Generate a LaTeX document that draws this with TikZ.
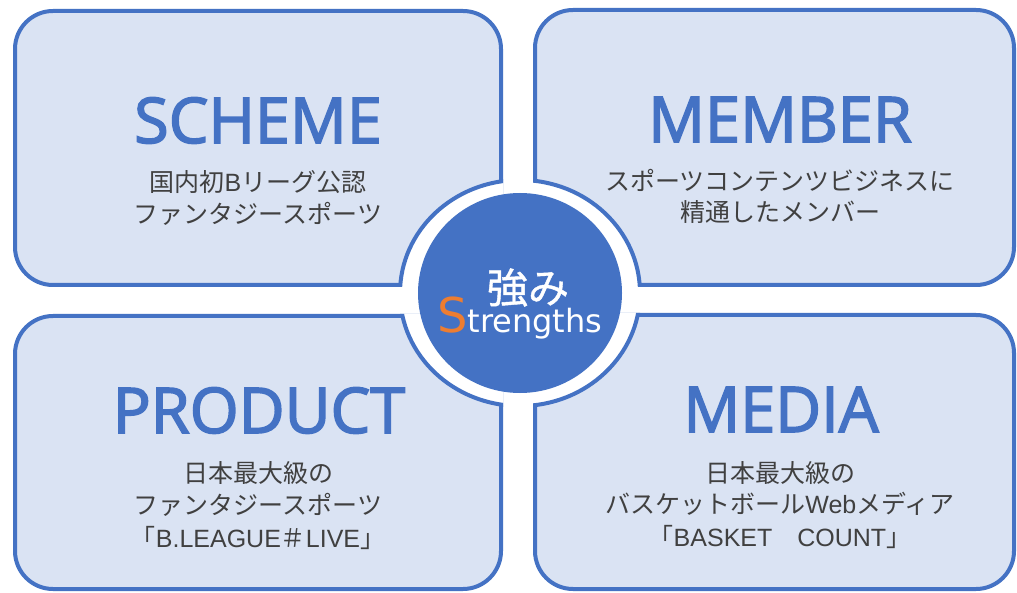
\documentclass[tikz,border=0pt]{standalone}
\usepackage{fontspec}
\setmainfont{Noto Sans CJK JP}
\newfontfamily\headfont{Open Sans}[FakeBold=2.5]
\newfontfamily\latb{Liberation Sans}
\newfontfamily\strfont{DejaVu Sans}
\newfontfamily\cjkmed{Noto Sans CJK JP}[FakeBold=1]
\usetikzlibrary{shapes.geometric}
\definecolor{accent}{HTML}{4472C4}
\definecolor{lightfill}{HTML}{DAE3F3}
\definecolor{bodygray}{HTML}{404040}
\definecolor{orangeS}{HTML}{ED7D31}
\begin{document}
\begin{tikzpicture}[x=1pt,y=-1pt,
  box/.style={draw=accent, line width=4pt, fill=lightfill, rounded corners=38pt},
  head/.style={font=\headfont\fontsize{63}{63}\selectfont, text=accent, inner sep=0pt, anchor=base},
  bodytxt/.style={font=\fontsize{25}{25}\selectfont, text=bodygray, inner sep=0pt, anchor=base},
  core/.style={ellipse, fill=accent, draw=none, minimum width=204pt, minimum height=200pt, inner sep=0pt}]
\useasboundingbox (0,0) rectangle (1017,593);
\fill[white] (0,0) rectangle (1017,593);
% four boxes
\path[box] (15,11) rectangle (501,285);
\path[box] (535,10) rectangle (1014,285);
\path[box] (15,316) rectangle (501,589);
\path[box] (535,315) rectangle (1014,589);
% cut-out ring around the centre
\begin{scope}
  \clip (13,9) rectangle (503,287) (533,8) rectangle (1016,287)
        (13,314) rectangle (503,591) (533,313) rectangle (1016,591);
  \path[draw=accent, line width=4pt, fill=white] (520,293) ellipse [x radius=120, y radius=113];
\end{scope}
\node[core] (centre) at (520,293) {};
% centre texts
\node[font=\cjkmed\fontsize{41}{41}\selectfont, text=white, inner sep=0pt, anchor=base] (tsuyomi) at (528,303) {強み};
\node[inner sep=0pt, anchor=base west] (strengths) at (437,333)
  {\strfont\fontsize{48}{48}\selectfont\textcolor{orangeS}{S}\fontsize{32}{32}\selectfont\textcolor{white}{trengths}};
% headings
\node[head] (scheme) at (258,143) {SCHEME};
\node[head] (member) at (780,142) {MEMBER};
\node[head] (product) at (259,433) {PRODUCT};
\node[head] (media) at (781,432) {MEDIA};
% body texts
\node[bodytxt] (s1) at (258,192) {国内初{\latb B}リーグ公認};
\node[bodytxt] (s2) at (258,224) {ファンタジースポーツ};
\node[bodytxt] (m1) at (780,191) {スポーツコンテンツビジネスに};
\node[bodytxt] (m2) at (780,222) {精通したメンバー};
\node[bodytxt] (p1) at (258,482) {日本最大級の};
\node[bodytxt] (p2) at (258,514) {ファンタジースポーツ};
\node[bodytxt] (p3) at (258,547) {「{\latb B.LEAGUE}＃{\latb LIVE}」};
\node[bodytxt] (d1) at (780,482) {日本最大級の};
\node[bodytxt] (d2) at (780,513) {バスケットボール{\latb Web}メディア};
\node[bodytxt] (d3) at (780,546) {「{\latb BASKET}　{\latb COUNT}」};
\end{tikzpicture}
\end{document}
